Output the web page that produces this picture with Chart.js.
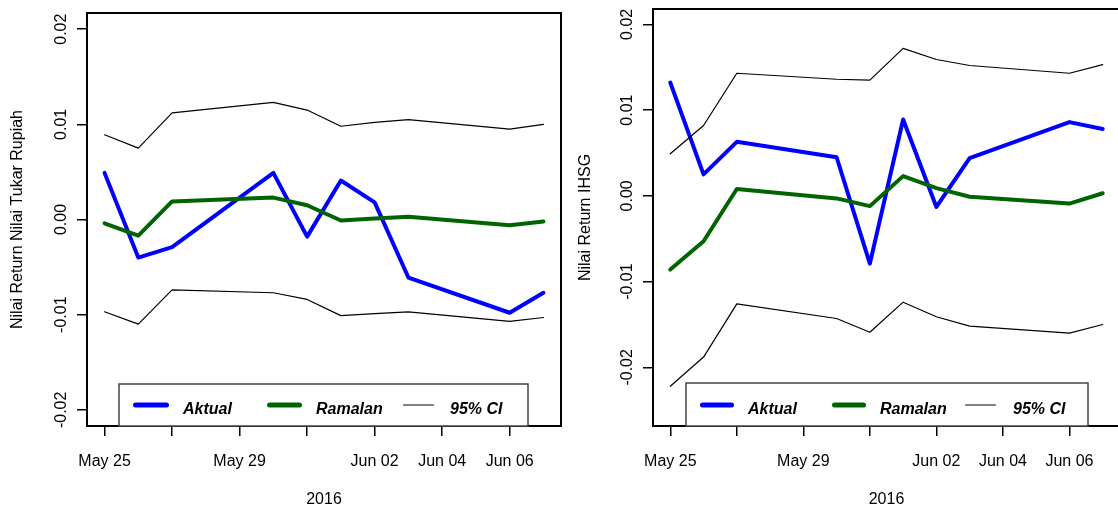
<!DOCTYPE html>
<html>
<head>
<meta charset="utf-8">
<script src="https://cdn.jsdelivr.net/npm/chart.js@4.4.1/dist/chart.umd.min.js"></script>
<style>
  html, body { margin: 0; padding: 0; background: #fff; }
  body { width: 1118px; height: 509px; overflow: hidden; position: relative; }
  canvas { position: absolute; top: 0; }
  #kurs { left: 0; }
  #ihsg { left: 566px; }
</style>
</head>
<body>
<canvas id="kurs" width="566" height="509"></canvas>
<canvas id="ihsg" width="558" height="509"></canvas>
<script>
// trading days shown on both panels
var dates = ["2016-05-25", "2016-05-26", "2016-05-27", "2016-05-30", "2016-05-31",
             "2016-06-01", "2016-06-02", "2016-06-03", "2016-06-06", "2016-06-07"];

// left panel: return of the rupiah exchange rate
var aktualKurs  = [0.0049, -0.0040, -0.0029, 0.0049, -0.0018, 0.0041, 0.0018, -0.0061, -0.0098, -0.0077];
var ramalanKurs = [-0.0004, -0.0017, 0.0019, 0.0023, 0.0015, -0.0001, 0.0001, 0.0003, -0.0006, -0.0002];
var upperKurs   = [0.0089, 0.0075, 0.0112, 0.0123, 0.0115, 0.0098, 0.0102, 0.0105, 0.0095, 0.0100];
var lowerKurs   = [-0.0097, -0.0110, -0.0074, -0.0077, -0.0084, -0.0101, -0.0099, -0.0097, -0.0107, -0.0103];

// right panel: return of IHSG
var aktualIhsg  = [0.0132, 0.0025, 0.0063, 0.0045, -0.0079, 0.0089, -0.0013, 0.0044, 0.0086, 0.0078];
var ramalanIhsg = [-0.0086, -0.0053, 0.0008, -0.0003, -0.0012, 0.0023, 0.0009, -0.0001, -0.0009, 0.0003];
var upperIhsg   = [0.0049, 0.0082, 0.0143, 0.0136, 0.0135, 0.0172, 0.0159, 0.0152, 0.0143, 0.0153];
var lowerIhsg   = [-0.0222, -0.0188, -0.0126, -0.0143, -0.0159, -0.0124, -0.0141, -0.0152, -0.0160, -0.0150];

// axes
var xTickDays = [0, 2, 4, 6, 8, 10, 12];
var xTickLabels = ["May 25", "", "May 29", "", "Jun 02", "Jun 04", "Jun 06"];
var yTickValues = [-0.02, -0.01, 0, 0.01, 0.02];
var yTickLabels = ["-0.02", "-0.01", "0.00", "0.01", "0.02"];
var legendLabels = ["Aktual", "Ramalan", "95% CI"];

var FONT = '"Liberation Sans", Arial, Helvetica, sans-serif';
var BLUE = "#0000ff", GREEN = "#006400";

function dayOffset(d) {
  return Math.round((Date.parse(d) - Date.parse(dates[0])) / 86400000);
}
function toPoints(values) {
  return values.map(function (v, i) { return { x: dayOffset(dates[i]), y: v }; });
}

// R style box, rotated y labels, axis titles and legend
var rDecor = {
  id: "rDecor",
  afterDraw: function (chart, args, o) {
    var ctx = chart.ctx, a = chart.chartArea, y = chart.scales.y;
    ctx.save();
    ctx.strokeStyle = "#000";
    ctx.lineWidth = 2;
    ctx.strokeRect(a.left, a.top, a.right - a.left, a.bottom - a.top);

    ctx.fillStyle = "#000";
    ctx.font = "16px " + FONT;
    ctx.textAlign = "center";
    ctx.textBaseline = "alphabetic";
    yTickValues.forEach(function (v, i) {
      ctx.save();
      ctx.translate(66, y.getPixelForValue(v));
      ctx.rotate(-Math.PI / 2);
      ctx.fillText(yTickLabels[i], 0, 0);
      ctx.restore();
    });
    ctx.save();
    ctx.translate(o.yTitleX, (a.top + a.bottom) / 2);
    ctx.rotate(-Math.PI / 2);
    ctx.fillText(o.yTitle, 0, 0);
    ctx.restore();
    ctx.fillText("2016", (a.left + a.right) / 2, 504);

    // legend
    var lg = o.legend;
    ctx.fillStyle = "#fff";
    ctx.fillRect(lg.left, lg.top, lg.right - lg.left, a.bottom - lg.top);
    ctx.strokeStyle = "#444";
    ctx.lineWidth = 1.5;
    ctx.strokeRect(lg.left, lg.top, lg.right - lg.left, a.bottom - lg.top);
    var colors = [BLUE, GREEN, "#000"], widths = [5, 5, 1.2];
    ctx.lineCap = "round";
    ctx.textAlign = "left";
    ctx.font = "italic bold 16px " + FONT;
    for (var i = 0; i < 3; i++) {
      ctx.strokeStyle = colors[i];
      ctx.lineWidth = widths[i];
      var pad = widths[i] / 2;
      ctx.beginPath();
      ctx.moveTo(lg.lines[i][0] + pad, 405);
      ctx.lineTo(lg.lines[i][1] - pad, 405);
      ctx.stroke();
      ctx.fillStyle = "#000";
      ctx.fillText(legendLabels[i], lg.texts[i], 414);
    }
    ctx.restore();
  }
};

function makeChart(id, series, o) {
  var line = function (data, color, width) {
    return {
      data: toPoints(data), borderColor: color, borderWidth: width,
      pointRadius: 0, tension: 0, borderJoinStyle: "round", borderCapStyle: "round", fill: false
    };
  };
  return new Chart(document.getElementById(id), {
    type: "line",
    data: {
      datasets: [
        line(series.lower, "#000", 1.2),
        line(series.upper, "#000", 1.2),
        line(series.ramalan, GREEN, 4),
        line(series.aktual, BLUE, 4)
      ]
    },
    options: {
      responsive: false,
      animation: false,
      devicePixelRatio: 1,
      layout: { padding: { top: o.top, right: o.right, bottom: 0, left: 0 } },
      plugins: { legend: { display: false }, tooltip: { enabled: false }, rDecor: o },
      scales: {
        x: {
          type: "linear",
          min: -0.52,
          max: 13.52,
          afterBuildTicks: function (s) { s.ticks = xTickDays.map(function (v) { return { value: v }; }); },
          afterFit: function (s) { s.height = 83; },
          ticks: {
            autoSkip: false, maxRotation: 0, minRotation: 0, padding: 16, color: "#000",
            font: { family: FONT, size: 16 },
            callback: function (v, i) { return xTickLabels[i]; }
          },
          grid: { drawOnChartArea: false, drawTicks: true, tickLength: 10, color: "#000", lineWidth: 1.5 },
          border: { display: false }
        },
        y: {
          min: o.yMin,
          max: o.yMax,
          afterBuildTicks: function (s) { s.ticks = yTickValues.map(function (v) { return { value: v }; }); },
          afterFit: function (s) { s.width = 87; },
          ticks: { display: false },
          grid: { drawOnChartArea: false, drawTicks: true, tickLength: 10, color: "#000", lineWidth: 1.5 },
          border: { display: false }
        }
      }
    },
    plugins: [rDecor]
  });
}

makeChart("kurs",
  { aktual: aktualKurs, ramalan: ramalanKurs, upper: upperKurs, lower: lowerKurs },
  {
    top: 13, right: 5, yMin: -0.0217, yMax: 0.0217,
    yTitle: "Nilai Return Nilai Tukar Rupiah", yTitleX: 22,
    legend: { left: 119, right: 528, top: 384, lines: [[133, 169], [267, 302], [403, 434]], texts: [183, 316, 450] }
  });

makeChart("ihsg",
  { aktual: aktualIhsg, ramalan: ramalanIhsg, upper: upperIhsg, lower: lowerIhsg },
  {
    top: 9, right: 4, yMin: -0.02684, yMax: 0.02179,
    yTitle: "Nilai Return IHSG", yTitleX: 24,
    legend: { left: 120, right: 522, top: 383, lines: [[134, 168], [266, 300], [399, 430]], texts: [182, 314, 447] }
  });
</script>
</body>
</html>
